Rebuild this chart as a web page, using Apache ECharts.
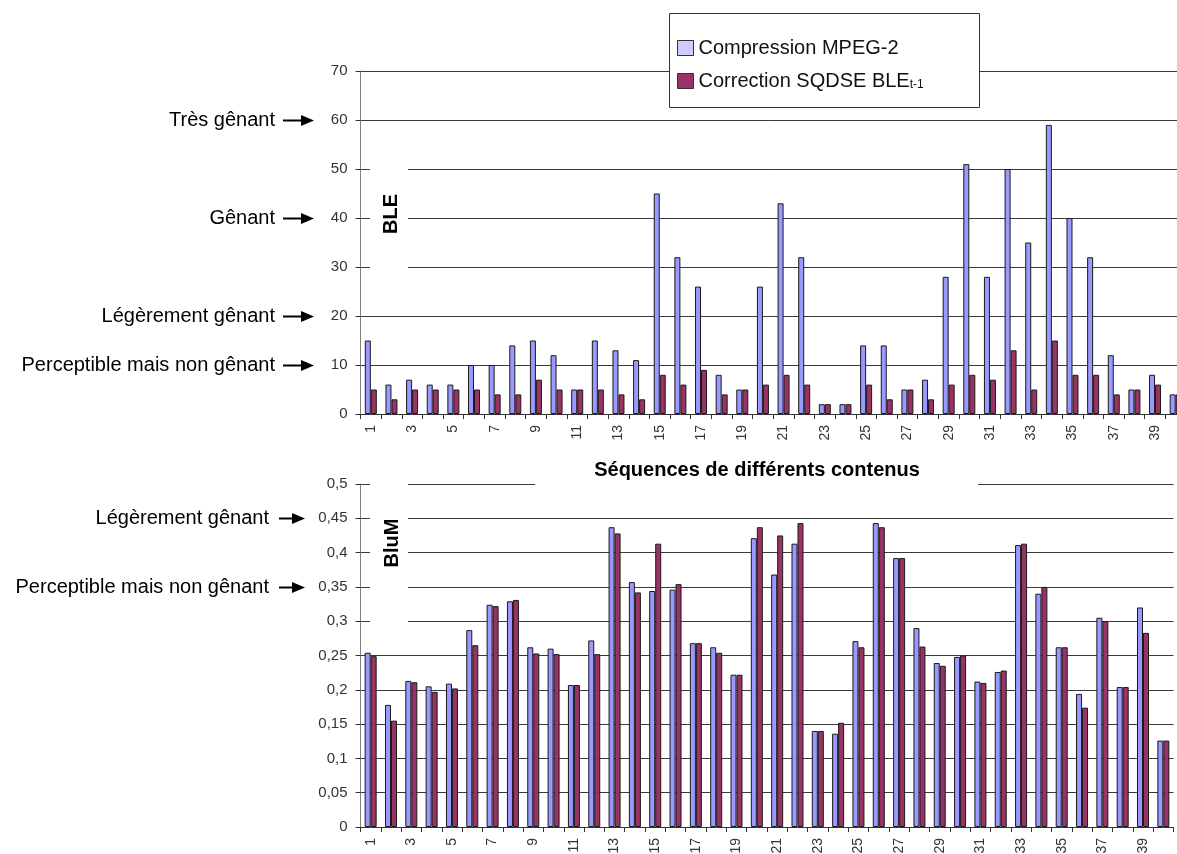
<!DOCTYPE html>
<html>
<head>
<meta charset="utf-8">
<script src="https://cdn.jsdelivr.net/npm/echarts@6/dist/echarts.min.js"></script>
<style>
html,body{margin:0;padding:0;background:#fff;}
#chart{width:1177px;height:854px;}
</style>
</head>
<body>
<div id="chart"></div>
<script>
// ---- data ----
const categories = ['1','2','3','4','5','6','7','8','9','10','11','12','13','14','15','16','17','18','19','20',
  '21','22','23','24','25','26','27','28','29','30','31','32','33','34','35','36','37','38','39','40'];
const seriesNames = ['Compression MPEG-2', 'Correction SQDSE BLE'];
const bleMpeg = [15,6,7,6,6,10,10,14,15,12,5,15,13,11,45,32,26,8,5,26,43,32,2,2,14,14,5,7,28,51,28,50,35,59,40,32,12,5,8,4];
const bleSqdse = [5,3,5,5,5,5,4,4,7,5,5,5,4,3,8,6,9,4,5,6,8,6,2,2,6,3,5,3,6,8,7,13,5,15,8,8,4,5,6,4];
const blumMpeg = [0.254,0.178,0.213,0.205,0.209,0.287,0.324,0.329,0.262,0.260,0.207,0.272,0.437,0.357,0.344,0.346,0.268,0.262,0.222,0.421,
  0.368,0.413,0.140,0.136,0.271,0.443,0.392,0.290,0.239,0.248,0.212,0.226,0.411,0.340,0.262,0.194,0.305,0.204,0.320,0.126];
const blumSqdse = [0.249,0.155,0.211,0.197,0.202,0.265,0.322,0.331,0.253,0.252,0.207,0.252,0.428,0.342,0.413,0.354,0.268,0.254,0.222,0.437,
  0.425,0.443,0.140,0.152,0.262,0.437,0.392,0.263,0.235,0.250,0.210,0.228,0.413,0.350,0.262,0.174,0.300,0.204,0.283,0.126];
const bleTickLabels = ['0','10','20','30','40','50','60','70'];
const blumTickLabels = ['0','0,05','0,1','0,15','0,2','0,25','0,3','0,35','0,4','0,45','0,5'];
const bleNotes = [['Très gênant',60],['Gênant',40],['Légèrement gênant',20],['Perceptible mais non gênant',10]];
const blumNotes = [['Légèrement gênant',0.45],['Perceptible mais non gênant',0.35]];
const xTitle = 'Séquences de différents contenus';
const bleTitle = 'BLE';
const blumTitle = 'BluM';

// ---- styles ----
const FONT = 'Liberation Sans, Arial, sans-serif';
const BLUE = '#9999FF', RED = '#993366';
const gridLineColor = '#3a3a3a';

function xAxisCfg(gridIndex){
  return {
    type:'category', gridIndex, data:categories, boundaryGap:true,
    axisLine:{lineStyle:{color:'#333',width:1}},
    axisTick:{show:true, interval:0, alignWithLabel:false, length:5, lineStyle:{color:'#333'}},
    axisLabel:{interval:1, rotate:90, margin:11, fontSize:14, fontFamily:FONT, color:'#333'}
  };
}
function yAxisCfg(gridIndex, max, interval, labels){
  return {
    type:'value', gridIndex, min:0, max, interval,
    axisLine:{show:true, lineStyle:{color:'#808080'}},
    axisTick:{show:true, length:5, lineStyle:{color:'#333'}},
    axisLabel:{margin:13, fontSize:15, fontFamily:FONT, color:'#333',
      formatter:(v)=>labels[Math.round(v/interval)]},
    splitLine:{show:true, lineStyle:{color:gridLineColor,width:1}}
  };
}
function barSeries(name, data, color, idx){
  return {
    type:'bar', name, data, xAxisIndex:idx, yAxisIndex:idx,
    barWidth:6, barGap:'0%',
    itemStyle:{color, borderColor:'#1a1a1a', borderWidth:1},
    emphasis:{disabled:true}
  };
}

const chart = echarts.init(document.getElementById('chart'), null, {renderer:'canvas'});
const option = {
  animation:false,
  backgroundColor:'#ffffff',
  grid:[
    {left:360.5, top:71, width:825.5, height:343, containLabel:false, outerBoundsMode:'none'},
    {left:360.5, top:484, width:813, height:343, containLabel:false, outerBoundsMode:'none'}
  ],
  xAxis:[xAxisCfg(0), xAxisCfg(1)],
  yAxis:[yAxisCfg(0,70,10,bleTickLabels), yAxisCfg(1,0.5,0.05,blumTickLabels)],
  legend:{
    left:677, top:38, orient:'vertical', itemWidth:16, itemHeight:15, itemGap:13, padding:0,
    z:10,
    textStyle:{fontSize:20, fontFamily:FONT, color:'#111',
      rich:{sub:{fontSize:12, fontFamily:FONT, color:'#111', verticalAlign:'bottom', padding:[8,0,0,0]}}},
    formatter:(name)=> name===seriesNames[1] ? name + '{sub|t-1}' : name,
    data:[
      {name:seriesNames[0], icon:'rect', itemStyle:{color:'#CCCCFF', borderColor:'#333', borderWidth:1}},
      {name:seriesNames[1], icon:'rect', itemStyle:{color:RED, borderColor:'#333', borderWidth:1}}
    ]
  },
  series:[
    barSeries(seriesNames[0], bleMpeg, BLUE, 0),
    barSeries(seriesNames[1], bleSqdse, RED, 0),
    barSeries(seriesNames[0], blumMpeg, BLUE, 1),
    barSeries(seriesNames[1], blumSqdse, RED, 1)
  ]
};
chart.setOption(option);

// ---- annotations, computed from axis scales ----
const g = [];
// legend frame
g.push({type:'rect', z:9, shape:{x:669.5, y:13.5, width:310, height:94},
  style:{fill:'#fff', stroke:'#333', lineWidth:1}});
// white boxes behind axis titles
g.push({type:'rect', z:9, shape:{x:370, y:140, width:38, height:155}, style:{fill:'#fff'}});
g.push({type:'rect', z:9, shape:{x:370, y:470, width:38, height:168}, style:{fill:'#fff'}});
g.push({type:'rect', z:9, shape:{x:535, y:452, width:443, height:46}, style:{fill:'#fff'}});
g.push({type:'text', z:10, x:391, y:214, rotation:Math.PI/2,
  style:{text:bleTitle, font:'bold 20px '+FONT, fill:'#000', align:'center', verticalAlign:'middle'}});
g.push({type:'text', z:10, x:392, y:543, rotation:Math.PI/2,
  style:{text:blumTitle, font:'bold 20px '+FONT, fill:'#000', align:'center', verticalAlign:'middle'}});
g.push({type:'text', z:10, x:757, y:470,
  style:{text:xTitle, font:'bold 20px '+FONT, fill:'#000', align:'center', verticalAlign:'middle'}});

function addNotes(notes, axisIdx, textRight, a1, a2){
  notes.forEach(([label, v])=>{
    const y = Math.round(chart.convertToPixel({yAxisIndex:axisIdx}, v));
    g.push({type:'text', z:10, x:textRight, y:y,
      style:{text:label, font:'20px '+FONT, fill:'#000', align:'right', verticalAlign:'middle'}});
    g.push({type:'line', z:10, shape:{x1:a1, y1:y+0.5, x2:a2-8, y2:y+0.5}, style:{stroke:'#000', lineWidth:2}});
    g.push({type:'polygon', z:10, shape:{points:[[a2-13,y-5],[a2,y+0.5],[a2-13,y+6]]}, style:{fill:'#000'}});
  });
}
addNotes(bleNotes, 0, 275, 283, 314);
addNotes(blumNotes, 1, 269, 279, 305);

chart.setOption({graphic:{elements:g}});
</script>
</body>
</html>
